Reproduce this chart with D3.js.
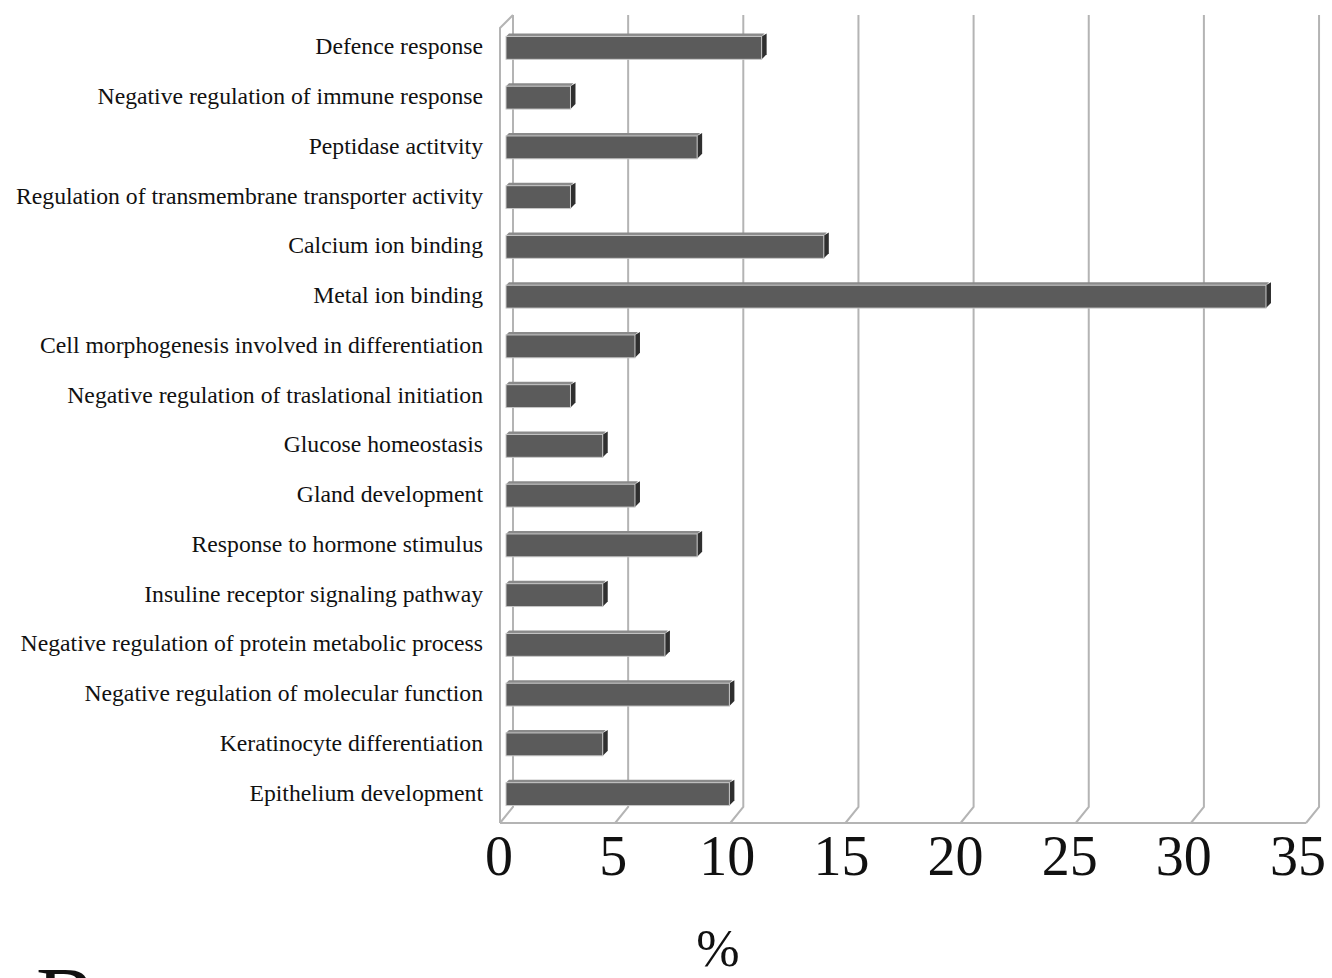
<!DOCTYPE html>
<html><head><meta charset="utf-8">
<script src="https://cdn.jsdelivr.net/npm/d3@7"></script>
<style>body{margin:0;background:#fff}svg{display:block}</style>
</head><body>
<script>
const categories = [
  "Defence response",
  "Negative regulation of immune response",
  "Peptidase actitvity",
  "Regulation of transmembrane transporter activity",
  "Calcium ion binding",
  "Metal ion binding",
  "Cell morphogenesis involved in differentiation",
  "Negative regulation of traslational initiation",
  "Glucose homeostasis",
  "Gland development",
  "Response to hormone stimulus",
  "Insuline receptor signaling pathway",
  "Negative regulation of protein metabolic process ",
  "Negative regulation of molecular function",
  "Keratinocyte differentiation",
  "Epithelium development"
];
const values = [11.1, 2.8, 8.3, 2.8, 13.8, 33.0, 5.6, 2.8, 4.2, 5.6, 8.3, 4.2, 6.9, 9.7, 4.2, 9.7];
const ticks = [0, 5, 10, 15, 20, 25, 30, 35];
const axisTitle = "%";
const panelLetter = "B";

const W = 1332, H = 978;
const svg = d3.select("body").append("svg").attr("width", W).attr("height", H);
const serif = "'Liberation Serif', 'Times New Roman', serif";

const depthX = 11, depthY = -16;
const floorY = 823, topY = 15;
const xFront = d3.scaleLinear().domain([0, 35]).range([502, 502 + 23.03 * 35]);
const xBack = v => xFront(v) + depthX;
const xBar = d3.scaleLinear().domain([0, 35]).range([506, 506 + 23.03 * 35]);
const xLabel = d3.scaleLinear().domain([0, 35]).range([499, 1298]);
const y = d3.scaleBand().domain(categories).range([23, 819]).paddingInner(0.54).paddingOuter(0.27);

const grid = svg.append("g").attr("fill", "none").attr("stroke", "#b4b4b4").attr("stroke-width", 2);
grid.append("path").attr("d", `M${xFront(0) - 2},${floorY} L${xFront(0) - 2},${topY + 13} L${xBack(0)},${topY}`);
grid.append("line").attr("x1", xFront(0) - 2).attr("x2", xFront(35) - 2).attr("y1", floorY).attr("y2", floorY);
grid.selectAll("path.g").data(ticks).join("path").attr("class", "g")
  .attr("d", t => `M${xBack(t)},${topY} L${xBack(t)},${floorY + depthY} L${xFront(t) - 2},${floorY}`);

const bars = svg.append("g");
const th = 3;
categories.forEach((c, i) => {
  const y0 = y(c), h = y.bandwidth(), x0 = xBar(0), x1 = xBar(values[i]);
  const g = bars.append("g");
  g.append("path").attr("fill", "#8a8a8a")
    .attr("d", `M${x0},${y0} L${x0 + th},${y0 - th} L${x1 + th},${y0 - th} L${x1},${y0} Z`);
  g.append("path").attr("fill", "#2f2f2f")
    .attr("d", `M${x1},${y0} L${x1 + th + 2},${y0 - th} L${x1 + th + 2},${y0 + h - th - 2} L${x1},${y0 + h} Z`);
  g.append("rect").attr("x", x0).attr("y", y0).attr("width", x1 - x0).attr("height", h)
    .attr("fill", "#5b5b5b").attr("stroke", "#c8c8c8").attr("stroke-width", 1);
});

svg.append("g").selectAll("text").data(categories).join("text")
  .attr("x", 483).attr("y", c => y(c) + y.bandwidth() / 2 + 1)
  .attr("text-anchor", "end").attr("dominant-baseline", "middle")
  .attr("font-family", serif).attr("font-size", 23.7)
  .attr("fill", "#111").text(d => d);

svg.append("g").selectAll("text").data(ticks).join("text")
  .attr("x", t => xLabel(t)).attr("y", 875).attr("text-anchor", "middle")
  .attr("font-family", serif).attr("font-size", 56)
  .attr("fill", "#111").text(d => d);

svg.append("text").attr("x", 718).attr("y", 966).attr("text-anchor", "middle")
  .attr("font-family", serif).attr("font-size", 52)
  .attr("fill", "#111").text(axisTitle);

svg.append("text").attr("x", 36).attr("y", 1030)
  .attr("font-family", serif).attr("font-size", 90)
  .attr("fill", "#111").text(panelLetter);
</script>
</body></html>
